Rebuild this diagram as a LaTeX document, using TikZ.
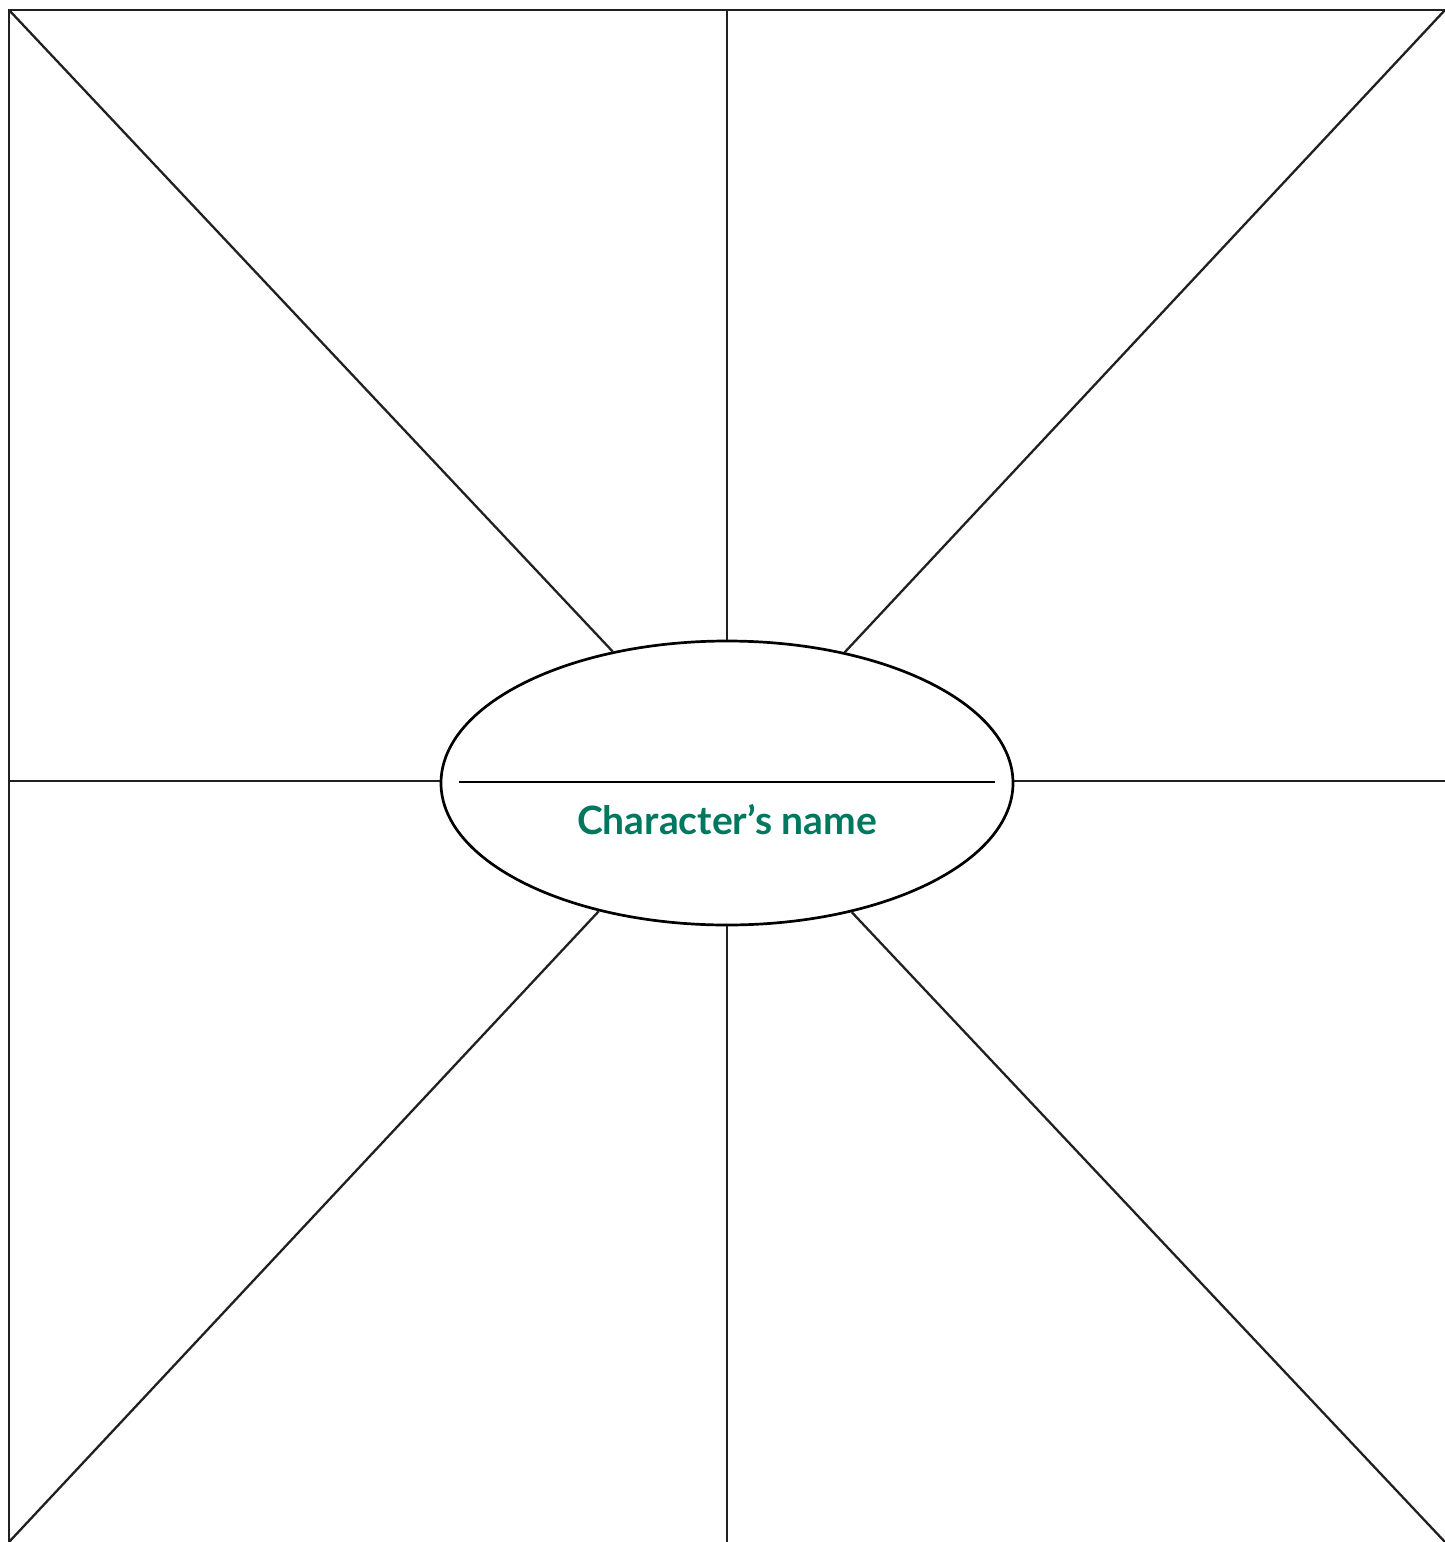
\documentclass[tikz,border=0pt]{standalone}
\usepackage{fontspec}
\setmainfont{Lato}
\usetikzlibrary{shapes.geometric}
\definecolor{linecol}{HTML}{231F20}
\definecolor{teal}{HTML}{00785F}
\tikzset{
  ray/.style={draw=linecol, line width=2.3pt},
  hub/.style={ellipse, draw=black, line width=2.7pt, minimum width=572pt, minimum height=284pt, inner sep=0pt},
  label/.style={text=teal, font=\fontsize{39}{42}\selectfont\bfseries, inner sep=0pt}
}
\begin{document}
\begin{tikzpicture}[x=1pt,y=-1pt]
\useasboundingbox (0,0) rectangle (1445,1542);
\fill[white] (0,0) rectangle (1445,1542);
\coordinate (tl) at (9,10);
\coordinate (tm) at (727,10);
\coordinate (tr) at (1445,10);
\coordinate (ml) at (9,781);
\coordinate (mr) at (1445,781);
\coordinate (bl) at (9,1542);
\coordinate (bm) at (727,1542);
\coordinate (br) at (1445,1542);
\coordinate (il) at (459,782);
\coordinate (ir) at (995,782);
\node[hub] (e) at (727,783) {};
\draw[ray] (bl) -- (tl) -- (tr);
\draw[ray] (tl) -- (e.131.5);
\draw[ray] (tr) -- (e.48.3);
\draw[ray] (bl) -- (e.225.4);
\draw[ray] (br) -- (e.314.8);
\draw[ray] (tm) -- (e.north);
\draw[ray] (bm) -- (e.south);
\draw[ray] (ml) -- (e.west |- ml);
\draw[ray] (mr) -- (e.east |- mr);
\draw[line width=2.4pt, black] (il) -- (ir);
\node[label] (name) at (727,820) {Character’s name};
\end{tikzpicture}
\end{document}
